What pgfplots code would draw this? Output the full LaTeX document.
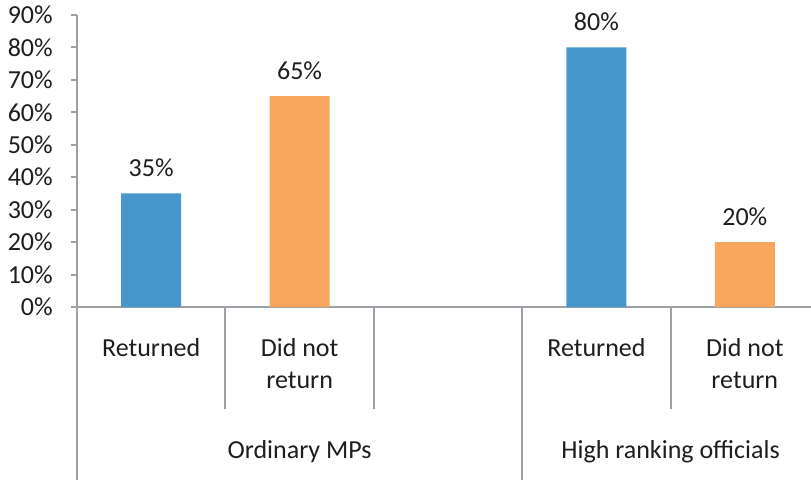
\documentclass[border=0pt]{standalone}
\usepackage{pgfplots}
\pgfplotsset{compat=1.18}
\usepackage{fontspec}
\setmainfont{Carlito}
\definecolor{barblue}{RGB}{69,151,205}
\definecolor{barorange}{RGB}{249,166,94}
\definecolor{axgray}{RGB}{157,160,164}
\definecolor{txt}{RGB}{30,30,30}
\newcommand{\lbl}{\fontsize{19.5}{24}\selectfont}
\begin{document}
\begin{tikzpicture}
\begin{axis}[
  at={(0,0)}, anchor=south west,
  scale only axis, width=556.5pt, height=219pt,
  xmin=-0.5, xmax=4.5, ymin=0, ymax=90,
  axis lines=left, axis line style={-, axgray, line width=1.5pt},
  xtick=\empty,
  ytick={0,10,...,90},
  yticklabel={\pgfmathprintnumber{\tick}\%},
  /pgf/number format/assume math mode=true,
  tick align=outside, major tick length=4.5pt,
  y tick style={axgray, line width=1.5pt},
  yticklabel style={font=\lbl, text=txt, inner sep=0pt, anchor=east, xshift=-13.5pt},
  ybar, bar width=45pt,
  clip=false,
  nodes near coords={\pgfmathprintnumber{\pgfplotspointmeta}\%},
  every node near coord/.append style={font=\lbl, text=txt, anchor=base, inner sep=0pt, yshift=12.75pt},
]
\addplot[bar shift=0pt, fill=barblue, draw=none] coordinates {(0,35) (3,80)};
\addplot[bar shift=0pt, fill=barorange, draw=none] coordinates {(1,65) (4,20)};

\draw[axgray, line width=1.5pt] (axis cs:0.5,0) -- ([yshift=-76.5pt]axis cs:0.5,0);
\draw[axgray, line width=1.5pt] (axis cs:1.5,0) -- ([yshift=-76.5pt]axis cs:1.5,0);
\draw[axgray, line width=1.5pt] (axis cs:3.5,0) -- ([yshift=-76.5pt]axis cs:3.5,0);
\draw[axgray, line width=1.5pt] (axis cs:-0.5,0) -- ([yshift=-140pt]axis cs:-0.5,0);
\draw[axgray, line width=1.5pt] (axis cs:2.5,0) -- ([yshift=-140pt]axis cs:2.5,0);
\draw[axgray, line width=1.5pt] (axis cs:4.5,0) -- ([yshift=-140pt]axis cs:4.5,0);

\node[font=\lbl, text=txt, anchor=base, inner sep=0pt] at ([yshift=-36.75pt]axis cs:0,0) {Returned};
\node[font=\lbl, text=txt, anchor=base, inner sep=0pt] at ([yshift=-36.75pt]axis cs:1,0) {Did not};
\node[font=\lbl, text=txt, anchor=base, inner sep=0pt] at ([yshift=-60.75pt]axis cs:1,0) {return};
\node[font=\lbl, text=txt, anchor=base, inner sep=0pt] at ([yshift=-36.75pt]axis cs:3,0) {Returned};
\node[font=\lbl, text=txt, anchor=base, inner sep=0pt] at ([yshift=-36.75pt]axis cs:4,0) {Did not};
\node[font=\lbl, text=txt, anchor=base, inner sep=0pt] at ([yshift=-60.75pt]axis cs:4,0) {return};
\node[font=\lbl, text=txt, anchor=base, inner sep=0pt] at ([yshift=-113.25pt]axis cs:1,0) {Ordinary MPs};
\node[font=\lbl, text=txt, anchor=base, inner sep=0pt] at ([yshift=-113.25pt]axis cs:3.5,0) {High ranking officials};
\end{axis}
\pgfresetboundingbox
\path[use as bounding box] (-57.75pt,-129pt) rectangle (550.5pt,230.25pt);
\end{tikzpicture}
\end{document}
